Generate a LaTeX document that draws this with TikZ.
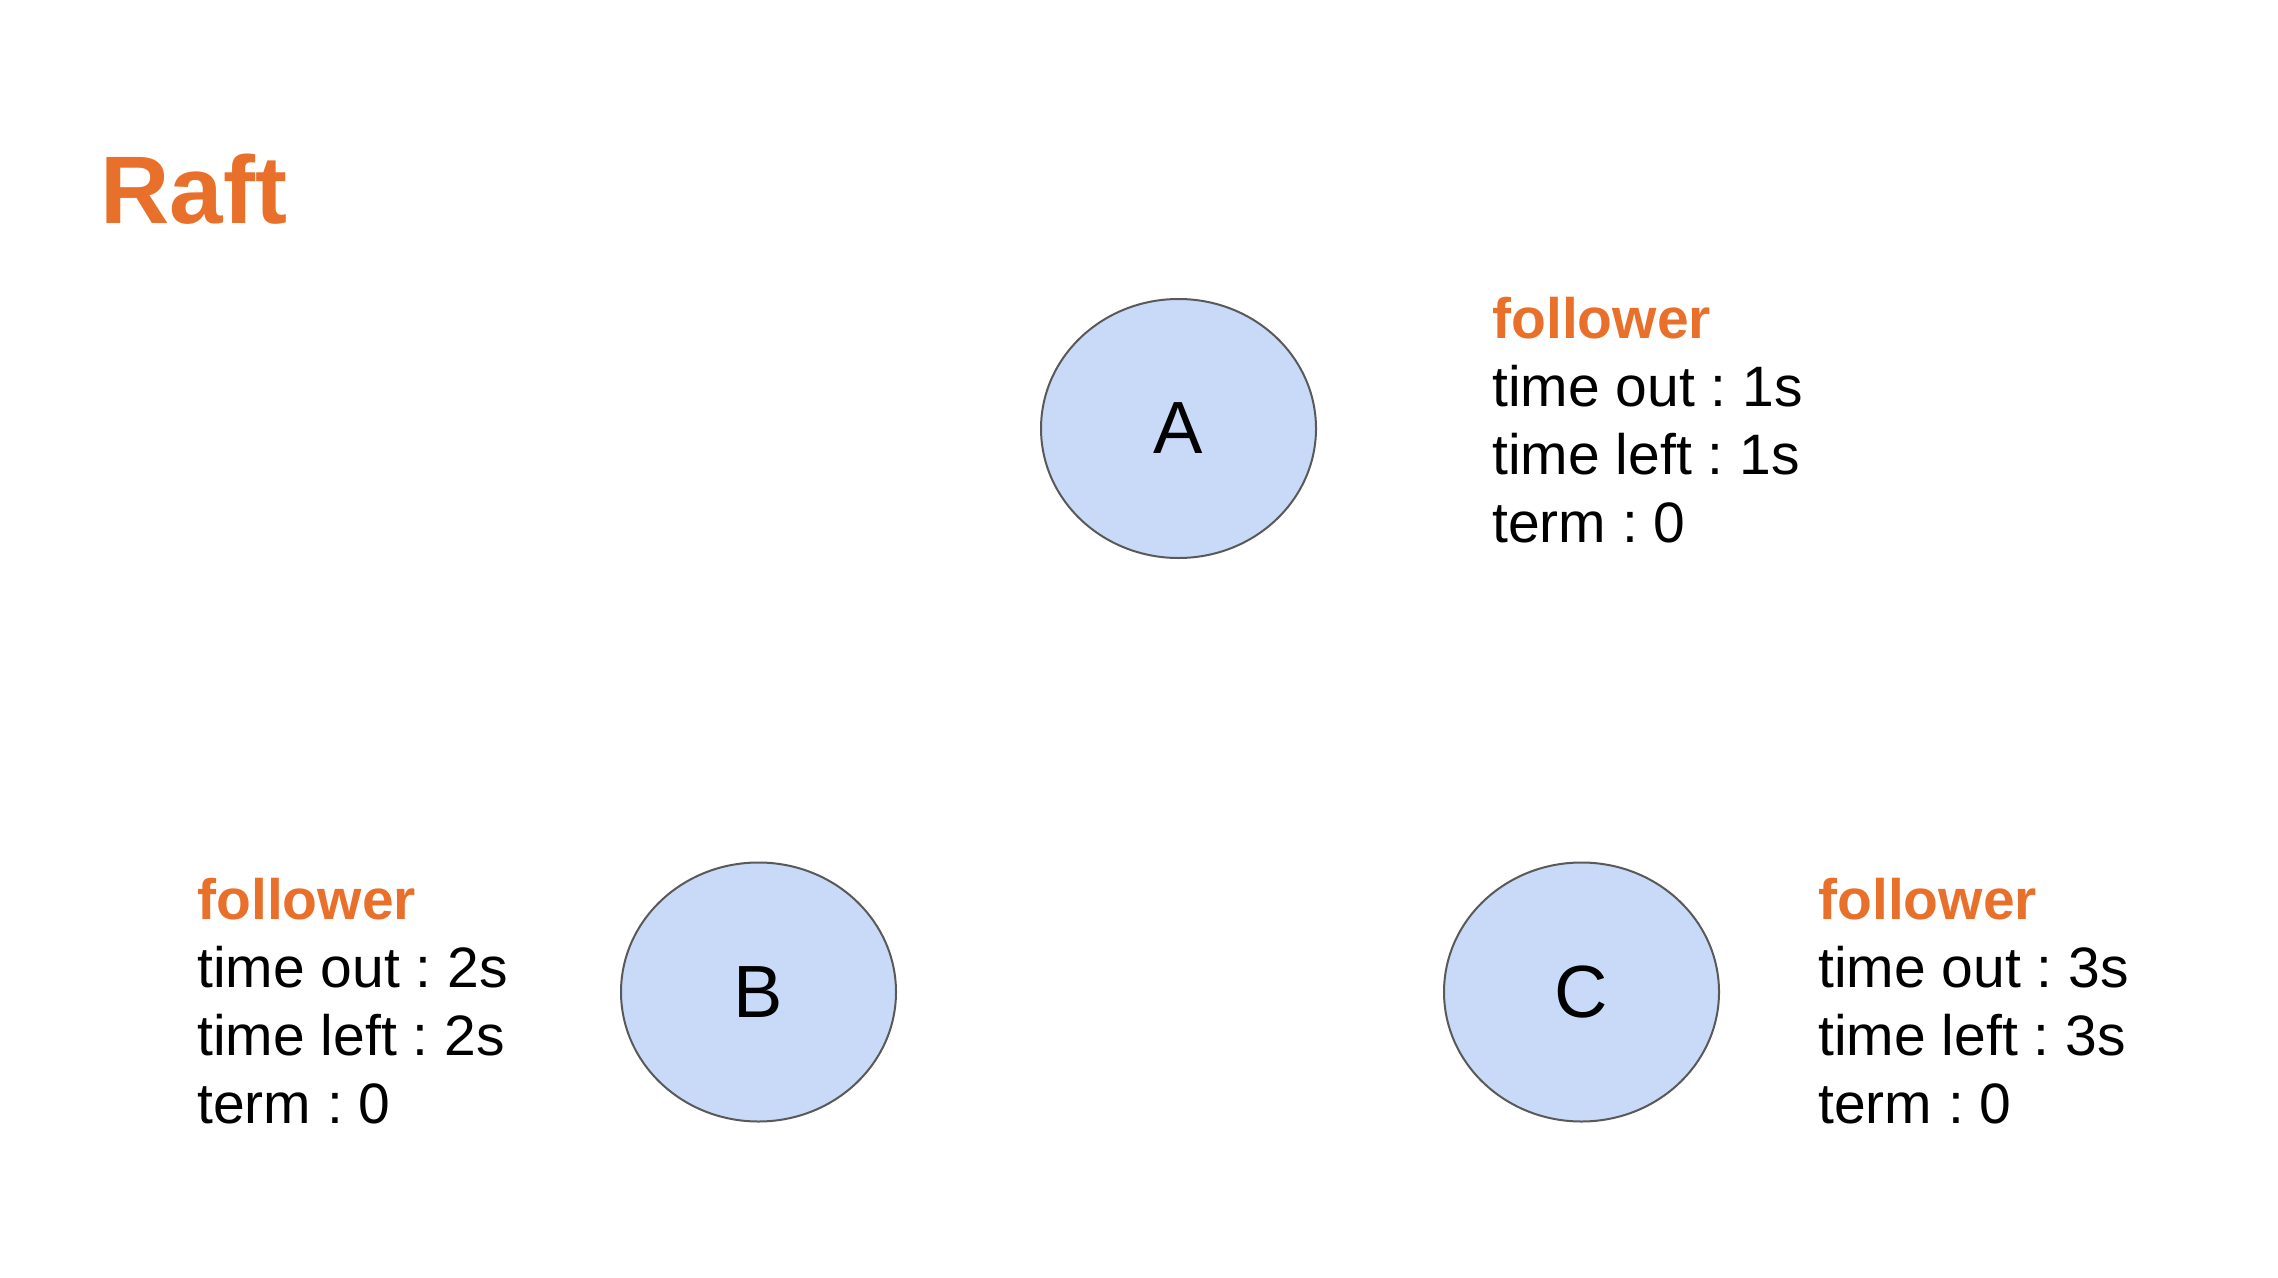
\documentclass[tikz,border=0pt]{standalone}
\usepackage{fontspec}
\setmainfont{Liberation Sans}
\usepackage{tikz}
\usetikzlibrary{shapes.geometric}
\definecolor{raftorange}{HTML}{E8702A}
\definecolor{nodeblue}{HTML}{C9DAF8}
\definecolor{edgegray}{HTML}{595959}
\tikzset{
  server/.style={ellipse, draw=edgegray, line width=1pt, fill=nodeblue,
    minimum width=137.5pt, minimum height=129.5pt, inner sep=0pt,
    font=\fontsize{37}{44}\selectfont},
  % anchor sits on the baseline of the last line
  info/.style={anchor=base west, align=left, inner sep=0pt,
    font=\fontsize{28.5}{34}\selectfont},
}
\newcommand{\state}[1]{\textbf{\color{raftorange}#1}}
\frenchspacing
\begin{document}
\begin{tikzpicture}[x=0.5pt,y=-0.5pt]
\useasboundingbox (0,0) rectangle (2278,1278);
\node (title) at (100,224) [anchor=base west, inner sep=0pt, text=raftorange,
  font=\fontsize{48}{58}\selectfont\bfseries] {Raft};
\node (A) at (1178.5,428.5) [server] {A};
\node (B) at (758.5,992) [server] {B};
\node (C) at (1581.5,992) [server] {C};
\node (infoA) at (1492,542) [info] {\state{follower}\\time out : 1s\\time left : 1s\\term : 0};
\node (infoB) at (197,1123) [info] {\state{follower}\\time out : 2s\\time left : 2s\\term : 0};
\node (infoC) at (1818,1123) [info] {\state{follower}\\time out : 3s\\time left : 3s\\term : 0};
\end{tikzpicture}
\end{document}
